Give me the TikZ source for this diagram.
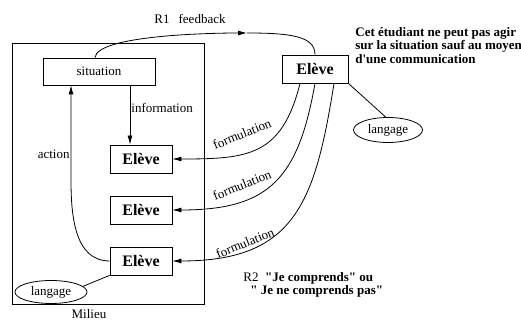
\documentclass[tikz,border=0pt]{standalone}
\usepackage{fontspec}
\setmainfont{Liberation Serif}[Ligatures=TeXOff]
\usetikzlibrary{arrows.meta}
\usetikzlibrary{shapes.geometric}
\tikzset{>={Latex[length=9pt,width=5pt]},node distance=51pt}

\begin{document}
\begin{tikzpicture}[x=1pt,y=1pt,line width=0.8pt,
    boite/.style={draw,inner sep=0pt,minimum width=62pt,minimum height=28pt,
        font=\fontsize{16}{16}\selectfont\bfseries},
    bulle/.style={draw,ellipse,inner sep=0pt,font=\fontsize{13}{13}\selectfont},
    lbl/.style={inner sep=1pt,font=\fontsize{13}{13}\selectfont},
    note/.style={inner sep=0pt,anchor=north west,align=left,
        font=\fontsize{13}{13.5}\selectfont\bfseries}]
        \useasboundingbox (0,0) rectangle (521,320);
        \draw (12,16) rectangle (204,277);
        \node[lbl] (milieu) at (89,6) {Milieu};
        \node[boite, minimum width=112pt, minimum height=27pt,
            font=\fontsize{13}{13}\selectfont] (sit) at (99,248.5) {situation};
        \node[boite] (e1) at (141,161) {Elève};
        \node[boite, below of=e1] (e2) {Elève};
        \node[boite, below of=e2] (e3) {Elève};
        \node[boite, minimum width=66pt] (eR) at (315,251) {Elève};
        \node[bulle, minimum width=72pt, minimum height=23pt] (l1) at (51,28) {langage};
        \node[bulle, minimum width=69pt, minimum height=25pt] (l2) at (388,190) {langage};
        \node[lbl] (r1) at (190,301) {R1\hspace{9pt}feedback};
        \node[note] (cet) at (355,293) {Cet étudiant ne peut pas agir\\
            sur la situation sauf au moyen\\d'une communication};
        \node[note] (r2) at (243,48) {{\mdseries R2}\ \ "Je comprends" ou\\
            \hspace{7pt}" Je ne comprends pas"};
        \node[lbl, rotate=22] (f1) at (242,186) {formulation};
        \node[lbl, rotate=22] (f2) at (242,135) {formulation};
        \node[lbl, rotate=22] (f3) at (245,77) {formulation};
        \coordinate (ix) at (130,0);
        \coordinate (ax) at (71,140);
        \coordinate (fb) at (247,287);
        % milieu
        \draw[->] (sit.south -| ix) -- node[lbl, right, pos=0.38] {information} (e1.north -| ix);
        \draw[->] (e3.west) to[out=180,in=-90] (ax)
            -- node[lbl, left, pos=0.27] {action} (sit.south -| ax);
        \draw (l1.10) -- (e3.south west);
        % feedback
        \draw[->] ([xshift=-4pt]sit.north) .. controls +(2,22) and +(-40,0) .. (fb);
        \draw (fb) .. controls +(45,0) and +(0,18) .. (eR.north);
        % formulations
        \draw[<-] (e1.east) to[out=0,in=-104,looseness=1.3] ([xshift=-15pt]eR.south);
        \draw[<-] (e2.east) to[out=0,in=-100,looseness=1.3] (eR.south);
        \draw[<-] (e3.east) to[out=0,in=-99,looseness=1.3] ([xshift=19pt]eR.south);
        \draw (eR.south east) -- (l2.100);
\end{tikzpicture}
\end{document}
